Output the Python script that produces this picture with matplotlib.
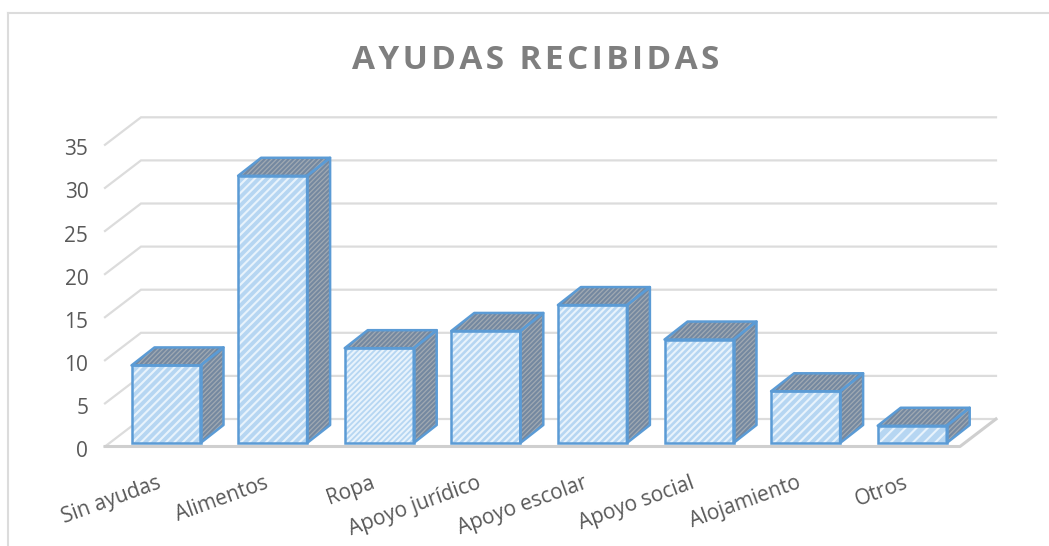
import matplotlib
matplotlib.use('Agg')
import matplotlib.pyplot as plt
from matplotlib.transforms import ScaledTranslation
import numpy as np

categories = ['Sin ayudas', 'Alimentos', 'Ropa', 'Apoyo jurídico', 'Apoyo escolar',
              'Apoyo social', 'Alojamiento', 'Otros']
values = [9, 31, 11, 13, 16, 12, 6, 2]
yticks = [0, 5, 10, 15, 20, 25, 30, 35]
title = 'AYUDAS RECIBIDAS'
hatches = ['////', '////', '//////', '/////', '/////', '/////', '////', '///']

W, H = 1049, 546
plt.rcParams['font.family'] = ['Open Sans', 'DejaVu Sans']
plt.rcParams['hatch.linewidth'] = 1.5

fig = plt.figure(figsize=(W / 100, H / 100), dpi=100)
# caja de ejes en pixeles de la imagen
left, right, bottom, top = 105, 996, 446.5, 117
ax = fig.add_axes([left / W, 1 - bottom / H, (right - left) / W, (bottom - top) / H])
px_x = 106.6  # pixeles por categoria
px_y = 8.62   # pixeles por unidad
ax.set_xlim(-(166 - left) / px_x, (right - 166) / px_x)
ax.set_ylim(0, (bottom - top) / px_y)
x0, x1 = ax.get_xlim()

# profundidad de la pared y de las barras (en unidades de datos)
wall_dx, wall_dy = 36 / px_x, 27.5 / px_y
bar_dx, bar_dy = 23 / px_x, 18 / px_y
bar_w = 69 / px_x
base = 3.5 / px_y

grid_col = '#dcdcdc'
blue = '#5b9bd5'

# rejilla y suelo
for v in yticks:
    ax.plot([x0, x0 + wall_dx, x1], [v, v + wall_dy, v + wall_dy], color=grid_col, lw=1.6,
            clip_on=False, zorder=1, solid_joinstyle='miter')
ax.plot([x0, x1 - wall_dx, x1], [0, 0, wall_dy], color='#cfcfcf', lw=2.2, clip_on=False, zorder=1)

xs = np.arange(len(values))
bars = ax.bar(xs, values, width=bar_w, bottom=base, facecolor='#b6d6f2', edgecolor='#e8f3fc',
              lw=0, zorder=3)
for b, h in zip(bars, hatches):
    b.set_hatch(h)
ax.bar(xs, values, width=bar_w, bottom=base, fill=False, edgecolor=blue, lw=1.8, zorder=5)

for x, v in zip(xs, values):
    l, r = x - bar_w / 2, x + bar_w / 2
    t, b = v + base, base
    top_x = [l, r, r + bar_dx, l + bar_dx]
    top_y = [t, t, t + bar_dy, t + bar_dy]
    side_x = [r, r + bar_dx, r + bar_dx, r]
    side_y = [b, b + bar_dy, t + bar_dy, t]
    for fx, fy in [(top_x, top_y), (side_x, side_y)]:
        ax.fill(fx, fy, facecolor='#a0a9b2', edgecolor='#7488a0', hatch='///////', lw=0,
                clip_on=False, zorder=3)
        ax.fill(fx, fy, fill=False, edgecolor=blue, lw=1.8, clip_on=False, zorder=4,
                joinstyle='round')

for s in ax.spines.values():
    s.set_visible(False)
ax.patch.set_visible(False)
ax.set_yticks(yticks)
ax.set_xticks(xs)
ax.set_xticklabels(categories, rotation=20, ha='right', va='top', rotation_mode='anchor')
ax.tick_params(axis='both', length=0, colors='#595959')
ax.tick_params(axis='y', pad=12, labelsize=15)
ax.tick_params(axis='x', pad=18, labelsize=15)
shift_x = ScaledTranslation(-9 / 100, -1 / 100, fig.dpi_scale_trans)
for lab in ax.get_xticklabels():
    lab.set_transform(lab.get_transform() + shift_x)
shift_y = ScaledTranslation(0, -2.5 / 100, fig.dpi_scale_trans)
for lab in ax.get_yticklabels():
    lab.set_transform(lab.get_transform() + shift_y)

# marco del grafico
for xy in [([8, 8], [546, 13]), ([8, 1049], [13, 13])]:
    fig.add_artist(plt.Line2D(np.array(xy[0]) / W, 1 - np.array(xy[1]) / H, color=grid_col, lw=1.5))

fig.text(535.5 / W, 1 - 60 / H, '\u200a'.join(title), ha='center', va='center', fontsize=24,
         fontweight='bold', color='#7f7f7f')

fig.savefig('out.png', dpi=100)
